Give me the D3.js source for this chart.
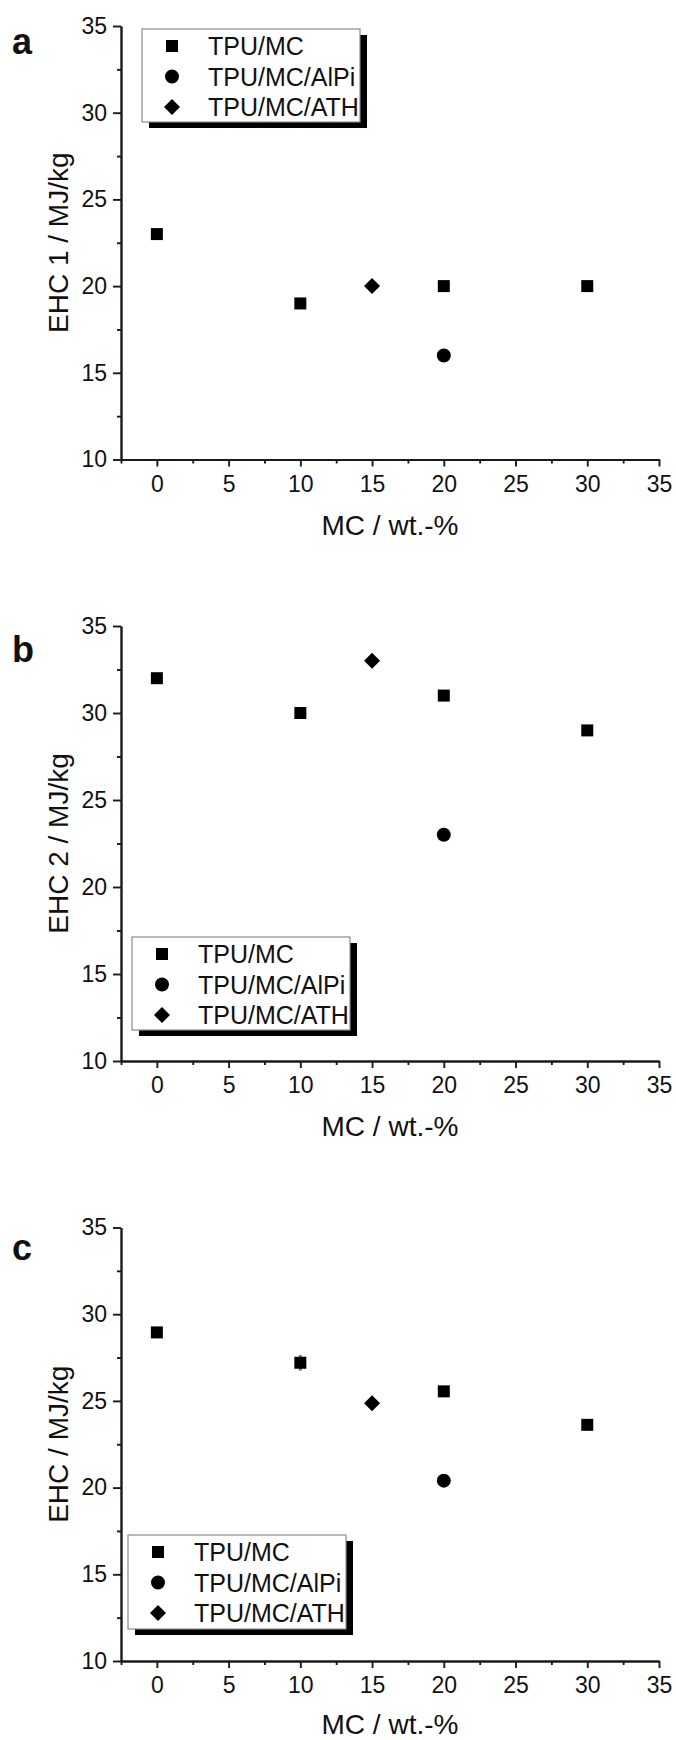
<!DOCTYPE html>
<html>
  <head>
    <meta charset="utf-8" />
    <title>EHC vs MC</title>
    <style>
      body {
        margin: 0;
        background: #fff;
      }
      svg text {
        font-family: "Liberation Sans", Arial, sans-serif;
        fill: #111;
      }
    </style>
    <script src="https://d3js.org/d3.v7.min.js"></script>
  </head>
  <body>
    <div id="chart"></div>
    <script>
      // data
      var seriesNames = ["TPU/MC", "TPU/MC/AlPi", "TPU/MC/ATH"];
      var panelLetters = ["a", "b", "c"];
      var yTitles = ["EHC 1 / MJ/kg", "EHC 2 / MJ/kg", "EHC / MJ/kg"];
      var xTitle = "MC / wt.-%";

      var mcTPU = [0, 10, 20, 30];
      var mcAlPi = [20];
      var mcATH = [15];

      var ehc1TPU = [23, 19, 20, 20];
      var ehc1AlPi = [16];
      var ehc1ATH = [20];

      var ehc2TPU = [32, 30, 31, 29];
      var ehc2AlPi = [23];
      var ehc2ATH = [33];

      var ehcTPU = [28.95, 27.2, 25.55, 23.62];
      var ehcTPUerr = [0.15, 0.45, 0.15, 0.15];
      var ehcAlPi = [20.4];
      var ehcATH = [24.87];

      var xTicks = [0, 5, 10, 15, 20, 25, 30, 35];
      var xMinor = [-2.5, 2.5, 7.5, 12.5, 17.5, 22.5, 27.5, 32.5];
      var yTicks = [10, 15, 20, 25, 30, 35];
      var yMinor = [12.5, 17.5, 22.5, 27.5, 32.5];

      var panelData = [
        { tpu: ehc1TPU, alpi: ehc1AlPi, ath: ehc1ATH, err: null },
        { tpu: ehc2TPU, alpi: ehc2AlPi, ath: ehc2ATH, err: null },
        { tpu: ehcTPU, alpi: ehcAlPi, ath: ehcATH, err: ehcTPUerr }
      ];

      // layout
      var width = 676, height = 1740;
      var panelTop = [26, 626, 1227.5];
      var panelBottom = [459.5, 1061, 1661];
      var titleGap = [75, 75, 73];
      var letterY = [54, 662, 1260];
      var legendBox = [
        { x: 142, y: 29, w: 218, h: 93 },
        { x: 132, y: 937, w: 218, h: 93 },
        { x: 128, y: 1535, w: 218, h: 94 }
      ];

      var svg = d3.select("#chart").append("svg")
        .attr("width", width)
        .attr("height", height);

      var x = d3.scaleLinear().domain([-2.5, 35]).range([121, 659]);

      var symSquare = d3.symbol().type(d3.symbolSquare).size(144)();
      var symCircle = d3.symbol().type(d3.symbolCircle).size(154)();
      var symDiamond = d3.symbol().type(d3.symbolSquare).size(128)();
      var shapes = [
        { path: symSquare, rot: 0 },
        { path: symCircle, rot: 0 },
        { path: symDiamond, rot: 45 }
      ];

      function styleAxis(g) {
        g.selectAll("path, line")
          .attr("stroke", "#1a1a1a")
          .attr("stroke-width", 1.9);
        g.selectAll("text")
          .style("font-size", "23px")
          .attr("fill", "#111");
      }

      panelData.forEach(function (d, i) {
        var y = d3.scaleLinear().domain([10, 35]).range([panelBottom[i], panelTop[i]]);
        var g = svg.append("g");

        // minor ticks
        g.append("g")
          .attr("transform", "translate(0," + panelBottom[i] + ")")
          .call(d3.axisBottom(x).tickValues(xMinor).tickSize(4).tickSizeOuter(0).tickFormat(""))
          .call(styleAxis);
        g.append("g")
          .attr("transform", "translate(" + x(-2.5) + ",0)")
          .call(d3.axisLeft(y).tickValues(yMinor).tickSize(4).tickSizeOuter(0).tickFormat(""))
          .call(styleAxis);

        // major ticks
        g.append("g")
          .attr("transform", "translate(0," + panelBottom[i] + ")")
          .call(d3.axisBottom(x).tickValues(xTicks).tickSize(7).tickSizeOuter(0).tickPadding(9))
          .call(styleAxis);
        g.append("g")
          .attr("transform", "translate(" + x(-2.5) + ",0)")
          .call(d3.axisLeft(y).tickValues(yTicks).tickSize(8).tickSizeOuter(0).tickPadding(6))
          .call(styleAxis);

        // axis titles
        g.append("text")
          .attr("x", (x.range()[0] + x.range()[1]) / 2)
          .attr("y", panelBottom[i] + titleGap[i])
          .attr("text-anchor", "middle")
          .style("font-size", "28px")
          .text(xTitle);
        g.append("text")
          .attr("transform", "translate(68," + (panelTop[i] + panelBottom[i]) / 2 + ") rotate(-90)")
          .attr("text-anchor", "middle")
          .style("font-size", "28px")
          .text(yTitles[i]);

        // panel letter
        g.append("text")
          .attr("x", 12)
          .attr("y", letterY[i])
          .style("font-size", "36px")
          .style("font-weight", "bold")
          .text(panelLetters[i]);

        // error bars (panel c)
        if (d.err) {
          g.selectAll(".err")
            .data(mcTPU.map(function (m, k) { return { m: m, v: d.tpu[k], e: d.err[k] }; }))
            .enter().append("line")
            .attr("x1", function (p) { return x(p.m); })
            .attr("x2", function (p) { return x(p.m); })
            .attr("y1", function (p) { return y(p.v - p.e); })
            .attr("y2", function (p) { return y(p.v + p.e); })
            .attr("stroke", "#777")
            .attr("stroke-width", 3);
        }

        // points
        var sets = [
          { xs: mcTPU, ys: d.tpu, s: 0 },
          { xs: mcAlPi, ys: d.alpi, s: 1 },
          { xs: mcATH, ys: d.ath, s: 2 }
        ];
        sets.forEach(function (set) {
          g.selectAll(null)
            .data(set.xs.map(function (m, k) { return [m, set.ys[k]]; }))
            .enter().append("path")
            .attr("d", shapes[set.s].path)
            .attr("transform", function (p) {
              return "translate(" + x(p[0]) + "," + y(p[1]) + ") rotate(" + shapes[set.s].rot + ")";
            })
            .attr("fill", "#000");
        });

        // legend with drop shadow
        var lb = legendBox[i];
        var lg = g.append("g").attr("transform", "translate(" + lb.x + "," + lb.y + ")");
        lg.append("rect")
          .attr("x", 7).attr("y", 6)
          .attr("width", lb.w).attr("height", lb.h)
          .attr("fill", "#000");
        lg.append("rect")
          .attr("x", 0).attr("y", 0)
          .attr("width", lb.w).attr("height", lb.h)
          .attr("fill", "#fff")
          .attr("stroke", "#8a8a8a")
          .attr("stroke-width", 1.2);
        seriesNames.forEach(function (name, k) {
          var ry = 17 + k * 30.5;
          lg.append("path")
            .attr("d", shapes[k].path)
            .attr("transform", "translate(30," + ry + ") rotate(" + shapes[k].rot + ")")
            .attr("fill", "#000");
          lg.append("text")
            .attr("x", 66)
            .attr("y", ry + 9)
            .style("font-size", "25px")
            .text(name);
        });
      });
    </script>
  </body>
</html>
